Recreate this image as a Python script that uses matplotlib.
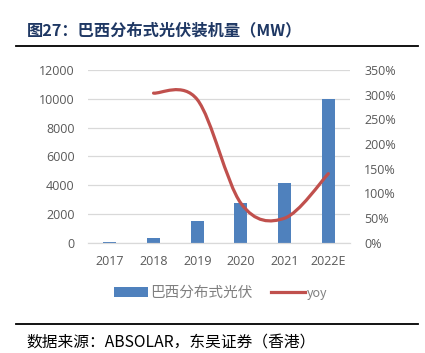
import matplotlib
matplotlib.use("Agg")
import matplotlib.pyplot as plt
from matplotlib.patches import Patch, PathPatch
from matplotlib.lines import Line2D
from matplotlib.path import Path
from matplotlib.ticker import FuncFormatter

YEARS = ["2017", "2018", "2019", "2020", "2021", "2022E"]
CAPACITY = [70, 370, 1550, 2750, 4150, 10000]
YOY_YEARS = ["2018", "2019", "2020", "2021", "2022E"]
YOY = [3.03, 2.90, 0.80, 0.50, 1.40]

BAR_COLOR = "#4F81BD"
LINE_COLOR = "#C0504D"
TEXT_GRAY = "#595959"
TITLE_COLOR = "#1F3864"

plt.rcParams["font.family"] = ["Open Sans", "Noto Sans CJK SC", "DejaVu Sans"]


def smooth_path(xs, ys):
    # сглаженная линия как в Excel: кривые Безье по соседним точкам
    pts = list(zip(xs, ys))
    verts = [pts[0]]
    codes = [Path.MOVETO]
    for i in range(len(pts) - 1):
        p0 = pts[i - 1] if i > 0 else pts[i]
        p1 = pts[i]
        p2 = pts[i + 1]
        p3 = pts[i + 2] if i + 2 < len(pts) else pts[i + 1]
        c1 = (p1[0] + (p2[0] - p0[0]) / 6, p1[1] + (p2[1] - p0[1]) / 6)
        c2 = (p2[0] - (p3[0] - p1[0]) / 6, p2[1] - (p3[1] - p1[1]) / 6)
        verts += [c1, c2, p2]
        codes += [Path.CURVE4] * 3
    return Path(verts, codes)


fig = plt.figure(figsize=(4.25, 3.53), dpi=100)
ax = fig.add_axes([0.207, 0.312, 0.617, 0.490])
ax2 = ax.twinx()

x = list(range(len(YEARS)))
ax.bar(x, CAPACITY, width=0.3, color=BAR_COLOR, zorder=2)
ax.set_xlim(-0.5, len(YEARS) - 0.5)
ax.set_ylim(0, 12000)
ax.set_yticks(range(0, 12001, 2000))
ax.set_xticks(x)
ax.set_xticklabels(YEARS)
ax.grid(axis="y", color="#D9D9D9", linewidth=0.9, zorder=0)
ax.set_axisbelow(True)

yoy_x = [YEARS.index(y) for y in YOY_YEARS]
ax2.add_patch(PathPatch(smooth_path(yoy_x, YOY), facecolor="none",
                        edgecolor=LINE_COLOR, linewidth=2.3,
                        capstyle="round", zorder=3))
ax2.set_ylim(0, 3.5)
ax2.set_yticks([i * 0.5 for i in range(8)])
ax2.yaxis.set_major_formatter(FuncFormatter(lambda v, _: f"{v * 100:.0f}%"))

for a in (ax, ax2):
    for side in ("top", "left", "right"):
        a.spines[side].set_visible(False)
    a.spines["bottom"].set_color("#D9D9D9")
    a.tick_params(length=0, labelsize=9, labelcolor=TEXT_GRAY)
ax.tick_params(axis="y", pad=9.5)
ax.tick_params(axis="x", pad=9)
ax2.tick_params(axis="y", pad=10)

handles = [Patch(facecolor=BAR_COLOR), Line2D([], [], color=LINE_COLOR, linewidth=2.3)]
leg = fig.legend(handles, ["巴西分布式光伏", "yoy"], loc="center",
                 bbox_to_anchor=(0.52, 0.17), ncol=2, frameon=False,
                 labelcolor="#7F7F7F", handlelength=2.3,
                 handletextpad=0.15, columnspacing=1.3,
                 prop={"family": ["Noto Sans CJK SC", "DejaVu Sans"], "size": 10.5})
leg.get_texts()[1].set_fontsize(9)

fig.text(0.063, 0.913, "图27：巴西分布式光伏装机量（MW）", fontsize=11.7,
         fontweight="bold", color=TITLE_COLOR, va="center",
         family=["Noto Sans CJK SC", "DejaVu Sans"])
fig.add_artist(Line2D([0.038, 0.984], [0.870, 0.870], color="black", linewidth=1.3))
fig.add_artist(Line2D([0.038, 0.984], [0.082, 0.082], color="black", linewidth=1.3))
fig.text(0.063, 0.004, "数据来源：ABSOLAR，东吴证券（香港）", fontsize=11.3,
         color="black", va="bottom", family=["Noto Sans CJK SC", "DejaVu Sans"])

fig.savefig("out.png", dpi=100)
